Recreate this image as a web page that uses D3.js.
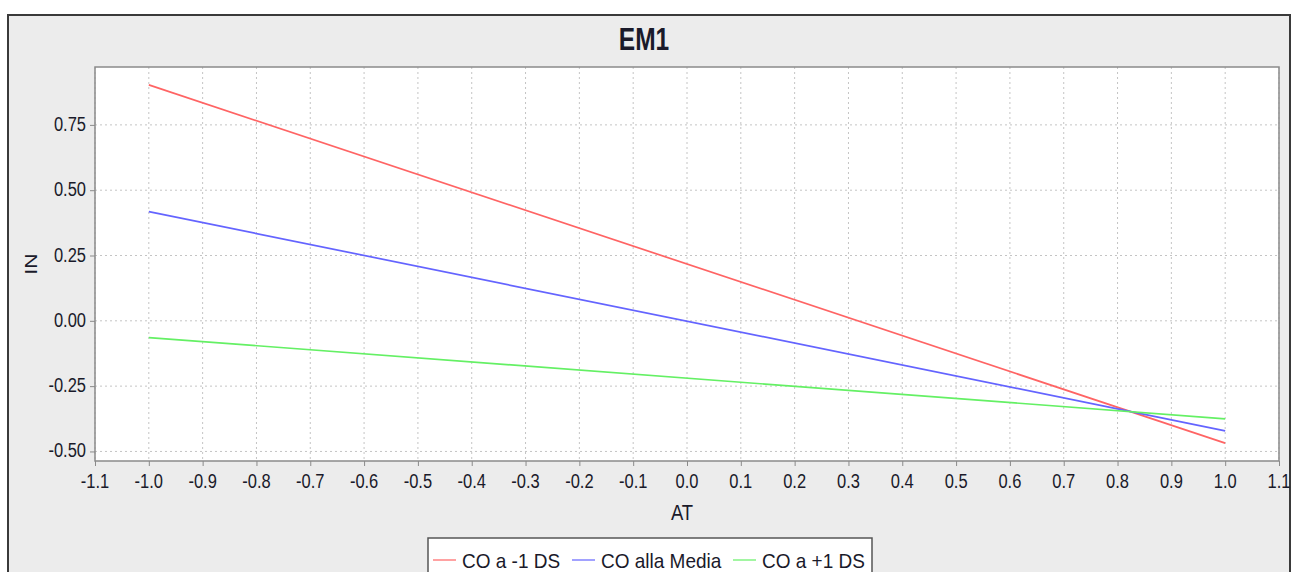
<!DOCTYPE html>
<html>
  <head>
    <meta charset="utf-8">
    <title>EM1</title>
    <script src="https://d3js.org/d3.v7.min.js"></script>
    <style>
      body { margin: 0; background: #ffffff; }
      text { font-family: "Liberation Sans", Arial, sans-serif; fill: #1a1a2a; }
    </style>
  </head>
  <body>
    <div id="chart"></div>
    <script>
      // Data (lines between x = -1 and x = 1)
      var atValues = [-1.0, 1.0];
      var coMinus = [0.903, -0.468];
      var coMedia = [0.418, -0.421];
      var coPlus = [-0.064, -0.375];
      var seriesNames = ["CO a -1 DS", "CO alla Media", "CO a +1 DS"];
      var seriesColors = ["#ff6464", "#6464ff", "#64f064"];
      var xTicks = [-1.1, -1.0, -0.9, -0.8, -0.7, -0.6, -0.5, -0.4, -0.3, -0.2, -0.1,
                    0.0, 0.1, 0.2, 0.3, 0.4, 0.5, 0.6, 0.7, 0.8, 0.9, 1.0, 1.1];
      var yTicks = [-0.50, -0.25, 0.00, 0.25, 0.50, 0.75];

      var width = 1297, height = 572;
      var stretch = 1.25; // text in the picture is drawn taller than wide

      var svg = d3.select("#chart")
        .append("svg")
        .attr("width", width)
        .attr("height", height);

      // chart frame
      svg.append("rect")
        .attr("x", 8).attr("y", 15)
        .attr("width", 1282).attr("height", 600)
        .attr("fill", "#ececec")
        .attr("stroke", "#3a3a3a")
        .attr("stroke-width", 2);

      var plot = { left: 95, top: 67, right: 1279, bottom: 461 };

      var xScale = d3.scaleLinear()
        .domain([-1.1, 1.1])
        .range([plot.left, plot.right]);

      var allY = coMinus.concat(coMedia, coPlus);
      var yMin = d3.min(allY), yMax = d3.max(allY);
      var pad = (yMax - yMin) * 0.05;
      var yScale = d3.scaleLinear()
        .domain([yMin - pad, yMax + pad])
        .range([plot.bottom, plot.top]);

      // d3.format gives a unicode minus, the picture uses a plain hyphen
      function fmt(spec) {
        var f = d3.format(spec);
        return function(v) { return f(v).replace("\u2212", "-"); };
      }

      function label(g, x, y, txt, size, anchor, weight, sy) {
        return g.append("text")
          .attr("transform", "translate(" + x + "," + y + ") scale(1," + (sy || stretch) + ")")
          .attr("text-anchor", anchor || "middle")
          .style("font-size", size + "px")
          .style("font-weight", weight || "normal")
          .text(txt);
      }

      // plot background
      svg.append("rect")
        .attr("x", plot.left).attr("y", plot.top)
        .attr("width", plot.right - plot.left)
        .attr("height", plot.bottom - plot.top)
        .attr("fill", "#ffffff");

      // gridlines
      svg.append("g")
        .selectAll("line")
        .data(xTicks)
        .enter()
        .append("line")
        .attr("x1", function(d) { return xScale(d); })
        .attr("x2", function(d) { return xScale(d); })
        .attr("y1", plot.top).attr("y2", plot.bottom)
        .attr("stroke", "#c4c4c4")
        .attr("stroke-dasharray", "2,3");

      svg.append("g")
        .selectAll("line")
        .data(yTicks)
        .enter()
        .append("line")
        .attr("x1", plot.left).attr("x2", plot.right)
        .attr("y1", function(d) { return yScale(d); })
        .attr("y2", function(d) { return yScale(d); })
        .attr("stroke", "#c4c4c4")
        .attr("stroke-dasharray", "2,3");

      // series
      var series = [coMinus, coMedia, coPlus];
      var line = d3.line()
        .x(function(d, i) { return xScale(atValues[i]); })
        .y(function(d) { return yScale(d); });

      svg.append("g")
        .selectAll("path")
        .data(series)
        .enter()
        .append("path")
        .attr("d", function(d) { return line(d); })
        .attr("fill", "none")
        .attr("stroke", function(d, i) { return seriesColors[i]; })
        .attr("stroke-width", 1.7);

      // plot border
      svg.append("rect")
        .attr("x", plot.left).attr("y", plot.top)
        .attr("width", plot.right - plot.left)
        .attr("height", plot.bottom - plot.top)
        .attr("fill", "none")
        .attr("stroke", "#8a8a8a")
        .attr("stroke-width", 1.5);

      // x axis
      var xAxis = svg.append("g")
        .attr("transform", "translate(0," + plot.bottom + ")")
        .call(d3.axisBottom(xScale).tickValues(xTicks).tickSize(5).tickFormat(""));
      xAxis.select(".domain").remove();
      xAxis.selectAll("line").attr("stroke", "#8a8a8a");
      var xLab = svg.append("g");
      var xFmt = fmt(".1f");
      xTicks.forEach(function(t) {
        label(xLab, xScale(t), 488, xFmt(t), 16.5);
      });
      label(svg, (plot.left + plot.right) / 2 - 5, 520, "AT", 18.5, "middle", "normal", 1.15);

      // y axis
      var yAxis = svg.append("g")
        .attr("transform", "translate(" + plot.left + ",0)")
        .call(d3.axisLeft(yScale).tickValues(yTicks).tickSize(5).tickFormat(""));
      yAxis.select(".domain").remove();
      yAxis.selectAll("line").attr("stroke", "#8a8a8a");
      var yLab = svg.append("g");
      var yFmt = fmt(".2f");
      yTicks.forEach(function(t) {
        label(yLab, 86, yScale(t) + 6, yFmt(t), 16.5, "end");
      });
      svg.append("text")
        .attr("transform", "translate(37," + ((plot.top + plot.bottom) / 2) + ") rotate(-90) scale(" + stretch + ",1)")
        .attr("text-anchor", "middle")
        .style("font-size", "17px")
        .text("IN");

      // title
      label(svg, 644, 50, "EM1", 24.5, "middle", "bold");

      // legend
      var legend = svg.append("g");
      legend.append("rect")
        .attr("x", 428).attr("y", 538)
        .attr("width", 444).attr("height", 60)
        .attr("fill", "#ffffff")
        .attr("stroke", "#555555")
        .attr("stroke-width", 1.5);
      var legendX = [433, 572, 733];
      seriesNames.forEach(function(name, i) {
        legend.append("line")
          .attr("x1", legendX[i]).attr("x2", legendX[i] + 23)
          .attr("y1", 560).attr("y2", 560)
          .attr("stroke", seriesColors[i])
          .attr("stroke-opacity", 0.6)
          .attr("stroke-width", 2);
        label(legend, legendX[i] + 29, 568, name, 19, "start", "normal", 1.1);
      });
    </script>
  </body>
</html>
